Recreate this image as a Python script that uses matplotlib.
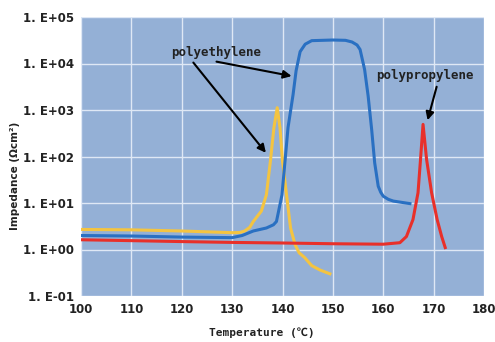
import matplotlib
matplotlib.use("Agg")
import matplotlib.pyplot as plt

# values (temperature in deg C, impedance in ohm cm^2)
pe1_t = [100, 110, 120, 125, 130, 131.5, 132.5, 133.5, 134.2, 135.8, 136.8, 137.6, 138.3,
         138.95, 139.5, 140.0, 140.8, 141.6, 142.5, 143.3, 144.4, 145.8, 147.5, 149.4]
pe1_z = [2.7, 2.65, 2.5, 2.4, 2.3, 2.32, 2.5, 3.0, 4.0, 6.7, 15, 80, 420,
         1120, 420, 80, 15, 2.9, 1.27, 0.85, 0.67, 0.45, 0.36, 0.3]

pe2_t = [100, 110, 120, 130, 132, 134.2, 136.8, 138.2, 138.8, 139.9, 140.5, 141.1, 142.1,
         142.7, 143.5, 144.5, 145.8, 150, 152.5, 153.8, 154.8, 155.4, 156.3, 157.0, 157.7,
         158.3, 159.0, 159.5, 160.0, 161.0, 162.0, 165.3]
pe2_z = [2.0, 1.95, 1.85, 1.8, 2.0, 2.5, 2.9, 3.4, 4.0, 15, 80, 420, 2150,
         7000, 18000, 26000, 31000, 32000, 31500, 29000, 25000, 20000, 7400, 2000, 380,
         73, 23, 17, 14, 12, 11, 9.7]

pp_t = [100, 110, 120, 130, 140, 150, 160, 163.3, 164.6, 165.9, 166.9, 167.4,
        167.9, 168.6, 169.6, 170.7, 171.6, 172.3]
pp_z = [1.62, 1.55, 1.48, 1.42, 1.38, 1.33, 1.3, 1.4, 1.9, 4.4, 16.6, 87,
        490, 87, 16.6, 4.4, 1.9, 1.1]

x_ticks = [100, 110, 120, 130, 140, 150, 160, 170, 180]
y_ticks = [1e-1, 1e0, 1e1, 1e2, 1e3, 1e4, 1e5]
y_labels = ["1. E-01", "1. E+00", "1. E+01", "1. E+02", "1. E+03", "1. E+04", "1. E+05"]

fig = plt.figure(figsize=(4.95, 3.42), dpi=100)
ax = fig.add_axes([81 / 495, 46 / 342, 403 / 495, 279 / 342])
ax.set_facecolor("#94b0d6")

ax.plot(pe1_t, pe1_z, color="#f4c441", lw=2.2, solid_joinstyle="round", zorder=3)
ax.plot(pe2_t, pe2_z, color="#2a70c2", lw=2.2, solid_joinstyle="round", zorder=3)
ax.plot(pp_t, pp_z, color="#e8302a", lw=2.2, solid_joinstyle="round", zorder=4)

ax.set_yscale("log")
ax.set_xlim(100, 180)
ax.set_ylim(1e-1, 1e5)
ax.set_xticks(x_ticks)
ax.set_xticklabels([str(t) for t in x_ticks])
ax.set_yticks(y_ticks)
ax.set_yticklabels(y_labels)
ax.minorticks_off()
ax.grid(True, color="#dfe8f5", lw=1.0)
ax.set_axisbelow(True)
for s in ax.spines.values():
    s.set_visible(False)
ax.tick_params(length=0, pad=5, labelsize=8.5)
for lab in ax.get_xticklabels() + ax.get_yticklabels():
    lab.set_fontweight("bold")
    lab.set_color("#222222")

mono = ["DejaVu Sans Mono", "Noto Sans CJK JP"]
fig.text(262 / 495, 1 - 333 / 342, "Temperature (\u2103)", ha="center", va="center",
         fontsize=8, fontweight="bold", family=mono, color="#222222")
fig.text(15 / 495, 1 - 176 / 342, "Impedance (\u03a9cm\u00b2)", ha="center", va="center",
         rotation=90, fontsize=7.5, fontweight="bold", color="#222222")

arrow = dict(arrowstyle="-|>", color="black", lw=1.5, mutation_scale=12,
             shrinkA=0, shrinkB=0)
ax.text(126.8, 10 ** 4.24, "polyethylene", ha="center", va="center",
        fontsize=9, fontweight="bold", family=mono, color="#222222")
ax.annotate("", xy=(136.7, 10 ** 2.08), xytext=(122.3, 10 ** 4.02), arrowprops=arrow)
ax.annotate("", xy=(141.8, 10 ** 3.73), xytext=(126.9, 10 ** 4.04), arrowprops=arrow)
ax.text(168.2, 10 ** 3.74, "polypropylene", ha="center", va="center",
        fontsize=9, fontweight="bold", family=mono, color="#222222")
ax.annotate("", xy=(168.8, 10 ** 2.78), xytext=(170.6, 10 ** 3.50), arrowprops=arrow)

fig.savefig("out.png", dpi=100)
